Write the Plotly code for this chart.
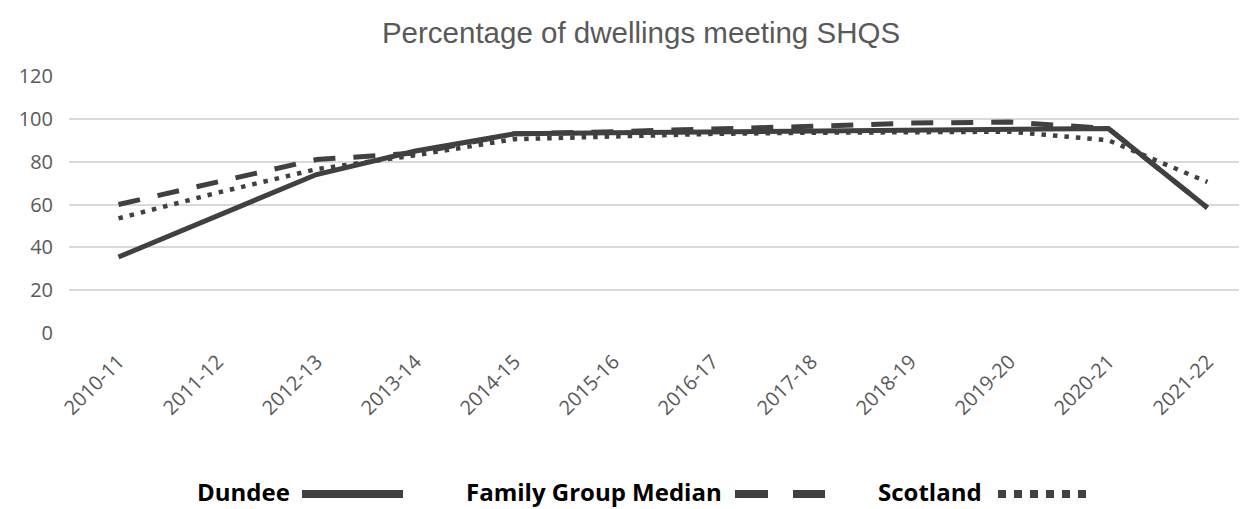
import plotly.graph_objects as go

categories = ["2010-11", "2011-12", "2012-13", "2013-14", "2014-15", "2015-16",
              "2016-17", "2017-18", "2018-19", "2019-20", "2020-21", "2021-22"]
dundee = [35.5, 55, 74, 85, 93, 93.5, 94, 94.5, 95, 95, 95.5, 58.5]
family_median = [60, 70.5, 81, 84, 93, 94, 95, 96.5, 98, 98.5, 95.5, 58.5]
scotland = [53.5, 65.5, 76.5, 83, 90.5, 92, 93, 93.5, 94, 94, 90, 70.5]
y_ticks = [0, 20, 40, 60, 80, 100, 120]

LINE = "#404040"
TXT = "#595959"
OFF = 8  # page body margin
W, H = 1247 - OFF, 509 - OFF
L, T = 69 - OFF, 76 - OFF
R = 0
B = H - (333 - OFF)
PW, PH = W - L - R, H - T - B


def px(x):
    return (x - OFF - L) / PW


def py(y):
    return (H - B - (y - OFF)) / PH


fig = go.Figure()
fig.add_trace(go.Scatter(x=categories, y=dundee, mode="lines", name="Dundee",
                         line=dict(color=LINE, width=5)))
fig.add_trace(go.Scatter(x=categories, y=family_median, mode="lines", name="Family Group Median",
                         line=dict(color=LINE, width=5, dash="22px,18px")))
fig.add_trace(go.Scatter(x=categories, y=scotland, mode="lines", name="Scotland",
                         line=dict(color=LINE, width=4.5, dash="4.5px,7px")))

shapes = []
ly = py(494)
shapes.append(dict(type="line", xref="paper", yref="paper", x0=px(302), x1=px(403), y0=ly, y1=ly,
                   line=dict(color=LINE, width=8)))
for a, b in [(735, 768), (793, 825)]:
    shapes.append(dict(type="line", xref="paper", yref="paper", x0=px(a), x1=px(b), y0=ly, y1=ly,
                       line=dict(color=LINE, width=8)))
for i in range(6):
    a = 998 + i * 16
    shapes.append(dict(type="line", xref="paper", yref="paper", x0=px(a), x1=px(a + 8), y0=ly, y1=ly,
                       line=dict(color=LINE, width=8)))

annotations = []
legend_font = dict(family="Open Sans", size=24, color="#000000")
for text, right in [("<b>Dundee</b>", 292), ("<b>Family Group Median</b>", 724), ("<b>Scotland</b>", 984)]:
    annotations.append(dict(text=text, xref="paper", yref="paper", x=px(right), y=py(491),
                            xanchor="right", yanchor="middle", showarrow=False, font=legend_font))

fig.update_layout(
    width=W, height=H,
    margin=dict(l=L, r=R, t=T, b=B),
    paper_bgcolor="white", plot_bgcolor="white",
    showlegend=False,
    title=dict(text="Percentage of dwellings meeting SHQS", x=(641 - OFF) / W, xanchor="center",
               y=1 - (33 - OFF) / H, yanchor="middle", yref="container",
               font=dict(family="Liberation Sans", size=29.5, color=TXT)),
    shapes=shapes,
    annotations=annotations,
)
fig.update_xaxes(type="category", range=[-0.5, 11.4], showgrid=False, showline=False, zeroline=False,
                 tickangle=-45, tickfont=dict(family="Open Sans", size=20, color=TXT),
                 ticklabelstandoff=12)
fig.update_yaxes(range=[0, 120], tickvals=y_ticks, showgrid=True, gridcolor="#d9d9d9", gridwidth=1.5,
                 zeroline=False, showline=False,
                 tickfont=dict(family="Open Sans", size=20, color=TXT),
                 ticklabelstandoff=15)

fig.write_html("out.html")
